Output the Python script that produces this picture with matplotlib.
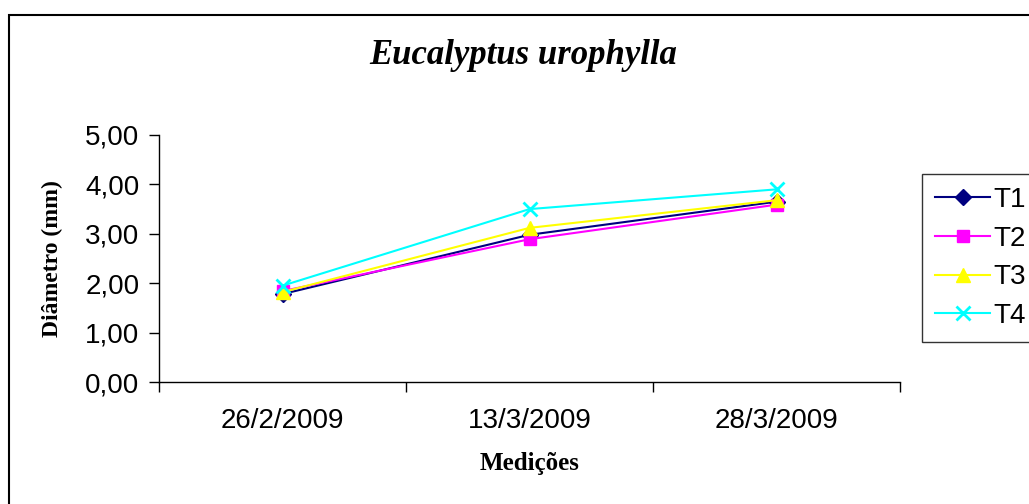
import matplotlib
matplotlib.use("Agg")
import matplotlib.pyplot as plt
from matplotlib.patches import Rectangle

# data
datas = ["26/2/2009", "13/3/2009", "28/3/2009"]
t1 = [1.78, 2.98, 3.65]
t2 = [1.84, 2.89, 3.59]
t3 = [1.82, 3.12, 3.68]
t4 = [1.95, 3.50, 3.90]
series = ["T1", "T2", "T3", "T4"]

W, H = 1029, 504
fig = plt.figure(figsize=(W / 100, H / 100), dpi=100)
ax = fig.add_axes([159 / W, 1 - 382 / H, (900 - 159) / W, (382 - 135) / H])

x = range(len(datas))
ax.plot(x, t1, color="#000080", marker="D", ms=8, lw=1.5, label=series[0])
ax.plot(x, t2, color="#FF00FF", marker="s", ms=9, lw=1.5, label=series[1])
ax.plot(x, t3, color="#FFFF00", marker="^", ms=10, lw=1.5, label=series[2])
ax.plot(x, t4, color="#00FFFF", marker="x", ms=10, mew=2, lw=1.5, label=series[3])

ax.set_xlim(-0.5, 2.5)
ax.set_ylim(0, 5)
ax.set_yticks([0, 1, 2, 3, 4, 5])
ax.set_yticklabels(["0,00", "1,00", "2,00", "3,00", "4,00", "5,00"],
                   family="Liberation Sans", fontsize=20)
ax.set_xticks(list(x))
ax.set_xticklabels(datas, family="Liberation Sans", fontsize=20)
ax.tick_params(axis="x", which="major", length=0, pad=19)
ax.set_xticks([-0.5, 0.5, 1.5, 2.5], minor=True)
ax.tick_params(axis="x", which="minor", length=7, width=1, direction="out")
ax.tick_params(axis="y", length=7, width=1, direction="out", pad=7)
for s in ["top", "right"]:
    ax.spines[s].set_visible(False)
for s in ["left", "bottom"]:
    ax.spines[s].set_linewidth(1)

ax.set_xlabel("Medições", family="Liberation Serif", fontweight="bold",
              fontsize=18, labelpad=13)
ax.set_ylabel("Diâmetro (mm)", family="Liberation Serif", fontweight="bold",
              fontsize=17, labelpad=16)
fig.text(523 / W, 1 - 55 / H, "Eucalyptus urophylla", family="Liberation Serif",
         style="italic", fontweight="bold", fontsize=25, ha="center", va="center")

leg = fig.legend(loc="upper left", bbox_to_anchor=(922 / W, 1 - 174 / H),
                 bbox_transform=fig.transFigure, borderaxespad=0,
                 prop={"family": "Liberation Sans", "size": 20},
                 frameon=True, fancybox=False, edgecolor="black",
                 handlelength=2.0, labelspacing=0.46, handletextpad=0.1,
                 borderpad=0.46)
leg.get_frame().set_linewidth(1)

# outer chart border (cut off by image edge)
fig.patches.append(Rectangle((9 / W, -0.5), 2, 1.5 - 15 / H, transform=fig.transFigure,
                             fill=False, edgecolor="black", lw=1.5))

fig.savefig("out.png", dpi=100)
